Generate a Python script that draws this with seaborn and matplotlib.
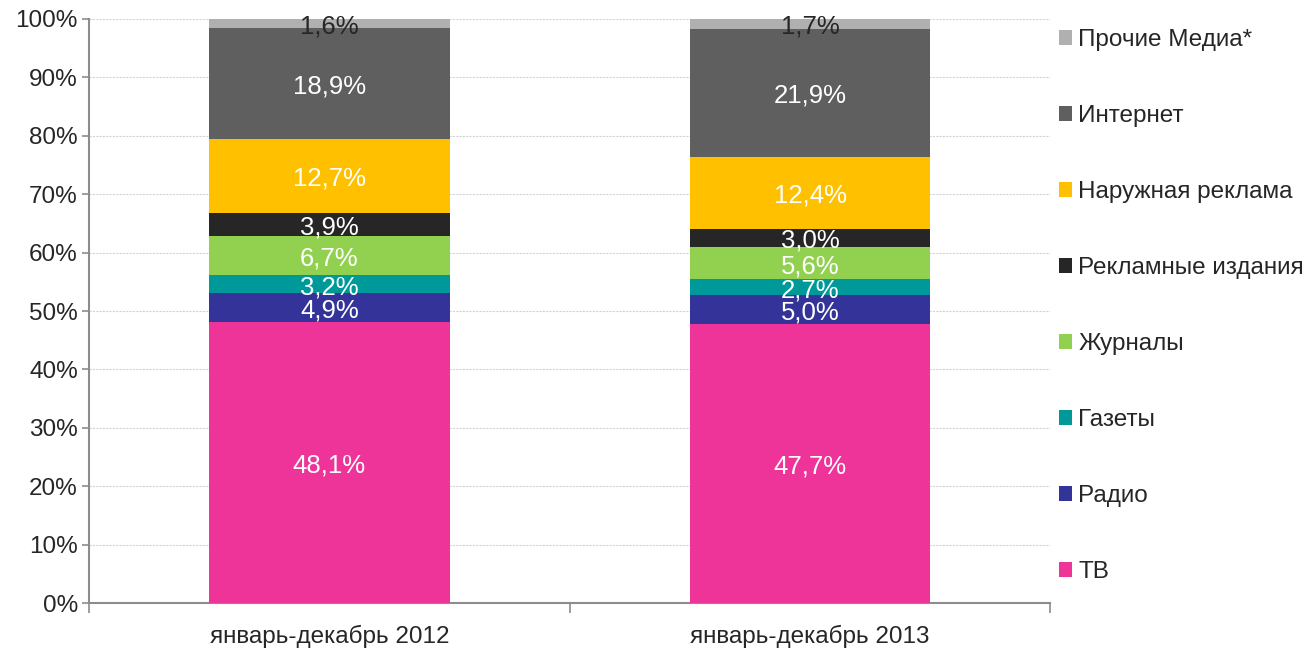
import numpy as np
import pandas as pd
import matplotlib
matplotlib.use("Agg")
import matplotlib.pyplot as plt
from matplotlib.patches import Patch
from matplotlib.ticker import FixedLocator, PercentFormatter
import seaborn as sns

periods = ["январь-декабрь 2012", "январь-декабрь 2013"]

# media segments, bottom to top
media = ["ТВ", "Радио", "Газеты", "Журналы", "Рекламные издания",
         "Наружная реклама", "Интернет", "Прочие Медиа*"]
share_2012 = [48.1, 4.9, 3.2, 6.7, 3.9, 12.7, 18.9, 1.6]
share_2013 = [47.7, 5.0, 2.7, 5.6, 3.0, 12.4, 21.9, 1.7]
colors = ["#EE3399", "#333399", "#009999", "#92D050", "#262626",
          "#FFC000", "#5F5F5F", "#B0B0B0"]

sns.set_theme(style="white")
plt.rcParams["font.family"] = ["Liberation Sans", "DejaVu Sans"]

df = pd.DataFrame({"period": np.repeat(periods, len(media)),
                   "media": media * len(periods),
                   "share": share_2012 + share_2013})
df["top"] = df.groupby("period")["share"].cumsum()
df["bottom"] = df["top"] - df["share"]

fig = plt.figure(figsize=(13.16, 6.48), dpi=100)
ax = fig.add_axes([0.0676, 0.0694, 0.7306, 0.9013])

# draw cumulative totals from the top segment down so lower ones overlay
for name, col in reversed(list(zip(media, colors))):
    sub = df[df["media"] == name]
    sns.barplot(data=sub, x="period", y="top", order=periods, color=col,
                width=0.5, saturation=1, edgecolor="none", linewidth=0,
                ax=ax, zorder=3)

# value labels
for _, r in df.iterrows():
    xi = periods.index(r["period"])
    yc = (r["bottom"] + r["top"]) / 2
    txt_col = "#262626" if r["media"] == "Прочие Медиа*" else "white"
    ax.text(xi, yc - 0.5, f"{r['share']:.1f}%".replace(".", ","), ha="center",
            va="center", fontsize=18.5, color=txt_col, zorder=5)

ax.set_xlim(-0.5, 1.5)
ax.set_ylim(0, 100)
ax.set_xlabel("")
ax.set_ylabel("")
ax.yaxis.set_major_locator(FixedLocator(np.arange(0, 101, 10)))
ax.yaxis.set_major_formatter(PercentFormatter(decimals=0))
ax.grid(axis="y", color="#d4d4d4", linestyle=(0, (2, 1)), linewidth=0.8, zorder=0)
ax.set_axisbelow(True)

for s in ["top", "right"]:
    ax.spines[s].set_visible(False)
for s in ["left", "bottom"]:
    ax.spines[s].set_color("#8c8c8c")
    ax.spines[s].set_linewidth(1.5)

ax.tick_params(axis="y", which="major", left=True, length=5, width=1.2,
               color="#8c8c8c", labelsize=17.5, labelcolor="#262626", pad=3)
ax.tick_params(axis="x", which="major", length=0, labelsize=17.5,
               labelcolor="#262626", pad=16)
ax.xaxis.set_minor_locator(FixedLocator([-0.5, 0.5, 1.5]))
ax.tick_params(axis="x", which="minor", bottom=True, length=7, width=1.2,
               color="#8c8c8c")

handles = [Patch(facecolor=c, edgecolor="none", label=m)
           for m, c in zip(media, colors)][::-1]
ax.legend(handles=handles, loc="upper left", bbox_to_anchor=(1.0, 0.997),
          frameon=False, fontsize=17.5, labelcolor="#262626",
          handlelength=0.55, handleheight=0.55, handletextpad=0.25,
          labelspacing=2.22, borderaxespad=0.05, borderpad=0.3)

fig.savefig("out.png", dpi=100, facecolor="white")
